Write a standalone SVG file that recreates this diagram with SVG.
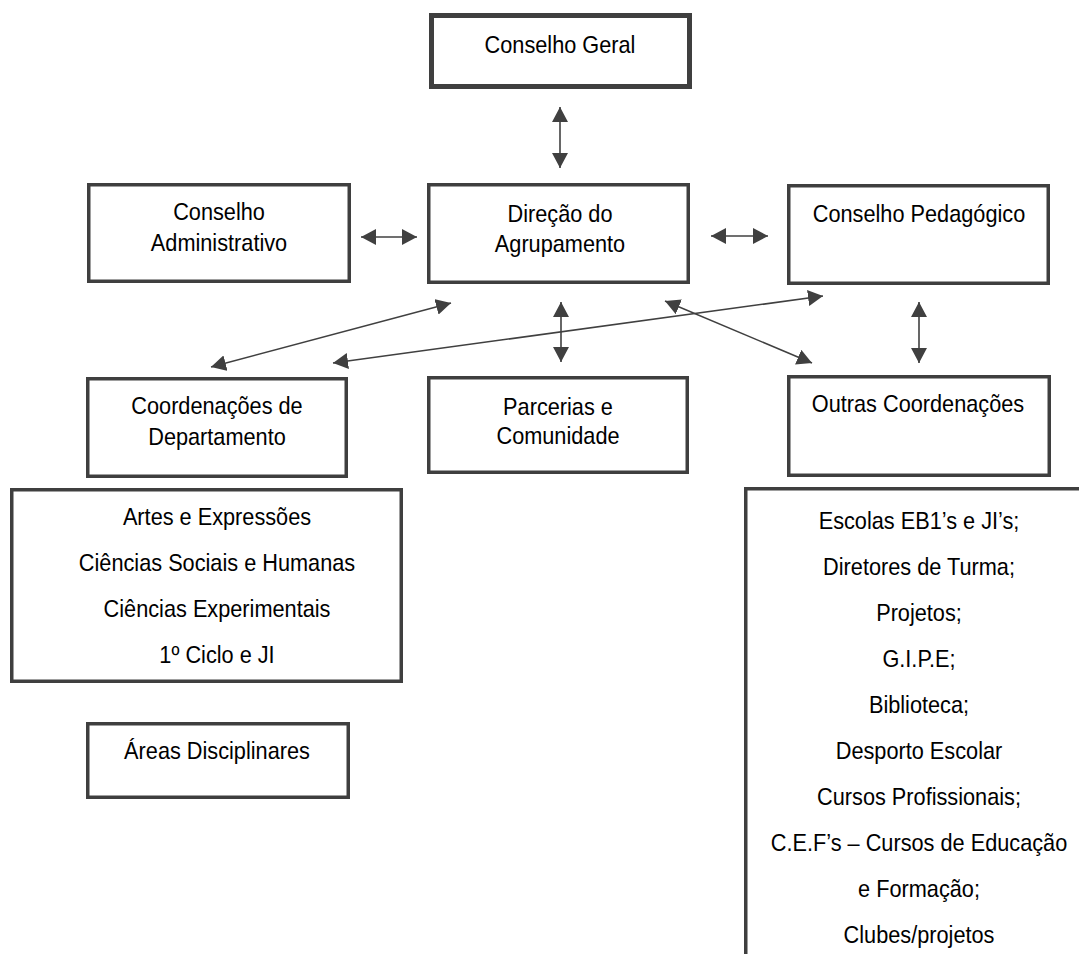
<svg xmlns="http://www.w3.org/2000/svg" width="1079" height="954" viewBox="0 0 1079 954">
<style>
.box{fill:#ffffff;stroke:#3f3f3f;stroke-width:3.5}
.thick{stroke-width:5}
.t{font-family:"Liberation Sans",Arial,sans-serif;font-size:24px;fill:#000000;text-anchor:middle}
.c{stroke:#404040;stroke-width:1.6;fill:none;marker-start:url(#ah);marker-end:url(#ah)}
</style>
<defs>
<marker id="ah" markerUnits="userSpaceOnUse" markerWidth="16" markerHeight="16" refX="15" refY="8" orient="auto-start-reverse">
<path d="M0,0 L15,8 L0,16 z" fill="#404040"/>
</marker>
</defs>
<rect width="1079" height="954" fill="#ffffff"/>
<g id="conselho-geral">
<rect class="box thick" x="431.5" y="15.5" width="258" height="71"/>
<text class="t" transform="translate(560 53) scale(0.905 1)">Conselho Geral</text>
</g>
<g id="conselho-administrativo">
<rect class="box" x="88.75" y="184.75" width="260.5" height="96.5"/>
<text class="t" transform="translate(219 220) scale(0.905 1)">Conselho</text>
<text class="t" transform="translate(219 251) scale(0.905 1)">Administrativo</text>
</g>
<g id="direcao">
<rect class="box" x="428.75" y="184.75" width="259.5" height="97.5"/>
<text class="t" transform="translate(560 222) scale(0.905 1)">Direção do</text>
<text class="t" transform="translate(560 252) scale(0.905 1)">Agrupamento</text>
</g>
<g id="conselho-pedagogico">
<rect class="box" x="788.75" y="185.75" width="259.5" height="97.5"/>
<text class="t" transform="translate(919 222) scale(0.905 1)">Conselho Pedagógico</text>
</g>
<g id="coordenacoes-departamento">
<rect class="box" x="87.75" y="378.75" width="258.5" height="97.5"/>
<text class="t" transform="translate(217 414) scale(0.905 1)">Coordenações de</text>
<text class="t" transform="translate(217 445) scale(0.905 1)">Departamento</text>
</g>
<g id="parcerias">
<rect class="box" x="428.75" y="377.75" width="258.5" height="94.5"/>
<text class="t" transform="translate(558 415) scale(0.905 1)">Parcerias e</text>
<text class="t" transform="translate(558 444) scale(0.905 1)">Comunidade</text>
</g>
<g id="outras-coordenacoes">
<rect class="box" x="788.75" y="376.75" width="260.5" height="98.5"/>
<text class="t" transform="translate(918 412) scale(0.905 1)">Outras Coordenações</text>
</g>
<g id="departamentos">
<rect class="box" x="11.75" y="489.75" width="389.5" height="191.5"/>
<text class="t" transform="translate(217 525) scale(0.905 1)">Artes e Expressões</text>
<text class="t" transform="translate(217 571) scale(0.905 1)">Ciências Sociais e Humanas</text>
<text class="t" transform="translate(217 617) scale(0.905 1)">Ciências Experimentais</text>
<text class="t" transform="translate(217 663) scale(0.905 1)">1º Ciclo e JI</text>
</g>
<g id="areas-disciplinares">
<rect class="box" x="87.75" y="723.75" width="260.5" height="73.5"/>
<text class="t" transform="translate(217 759) scale(0.905 1)">Áreas Disciplinares</text>
</g>
<g id="outras-lista">
<rect class="box" x="745.75" y="488.75" width="400" height="500"/>
<text class="t" transform="translate(919 529) scale(0.905 1)">Escolas EB1’s e JI’s;</text>
<text class="t" transform="translate(919 575) scale(0.905 1)">Diretores de Turma;</text>
<text class="t" transform="translate(919 621) scale(0.905 1)">Projetos;</text>
<text class="t" transform="translate(919 667) scale(0.905 1)">G.I.P.E;</text>
<text class="t" transform="translate(919 713) scale(0.905 1)">Biblioteca;</text>
<text class="t" transform="translate(919 759) scale(0.905 1)">Desporto Escolar</text>
<text class="t" transform="translate(919 805) scale(0.905 1)">Cursos Profissionais;</text>
<text class="t" transform="translate(919 851) scale(0.905 1)">C.E.F’s – Cursos de Educação</text>
<text class="t" transform="translate(919 897) scale(0.905 1)">e Formação;</text>
<text class="t" transform="translate(919 943) scale(0.905 1)">Clubes/projetos</text>
</g>
<g id="connectors">
<line class="c" x1="560" y1="107" x2="560" y2="168"/>
<line class="c" x1="361" y1="237" x2="417" y2="237"/>
<line class="c" x1="711" y1="236" x2="768" y2="236"/>
<line class="c" x1="561" y1="302" x2="561" y2="362"/>
<line class="c" x1="919" y1="302" x2="919" y2="363"/>
<line class="c" x1="451" y1="303" x2="211" y2="367"/>
<line class="c" x1="823" y1="296" x2="333" y2="363"/>
<line class="c" x1="665" y1="301" x2="812" y2="363"/>
</g>
</svg>
